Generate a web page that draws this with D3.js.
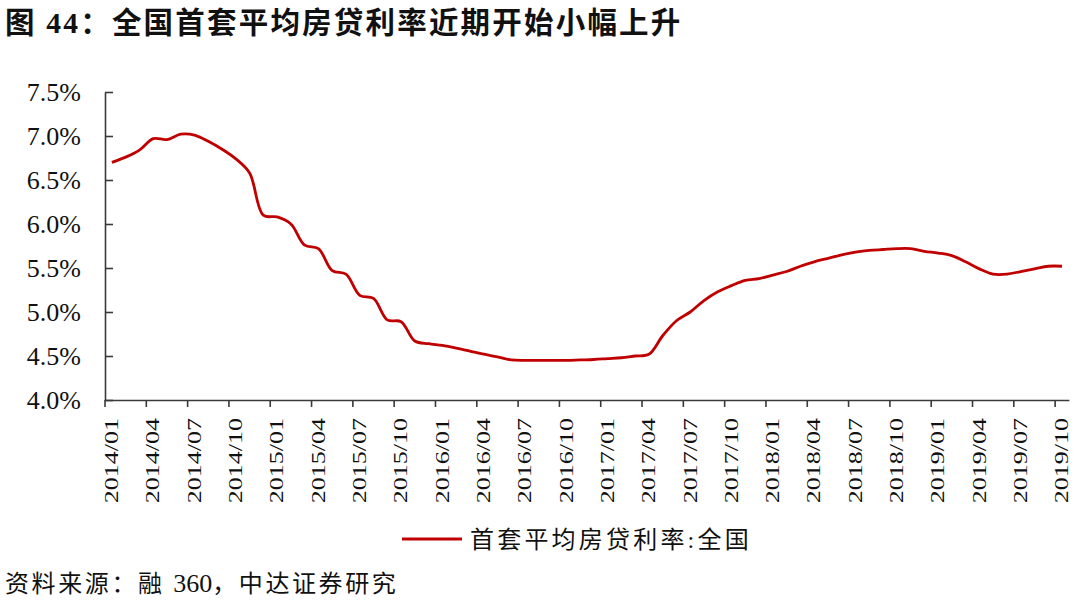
<!DOCTYPE html>
<html><head><meta charset="utf-8">
<script src="https://cdn.jsdelivr.net/npm/d3@7/dist/d3.min.js"></script>
<style>body{margin:0;background:#fff;} svg{display:block;}</style>
</head><body><svg id="c" width="1080" height="605"></svg>
<script>
const titleText = "图 44：全国首套平均房贷利率近期开始小幅上升";
const seriesName = "首套平均房贷利率:全国";
const sourceParts = ["资料来源：融 ", "360", "，中达证券研究"];

const months = [
 "2014/01","2014/02","2014/03","2014/04","2014/05","2014/06","2014/07","2014/08","2014/09","2014/10","2014/11","2014/12",
 "2015/01","2015/02","2015/03","2015/04","2015/05","2015/06","2015/07","2015/08","2015/09","2015/10","2015/11","2015/12",
 "2016/01","2016/02","2016/03","2016/04","2016/05","2016/06","2016/07","2016/08","2016/09","2016/10","2016/11","2016/12",
 "2017/01","2017/02","2017/03","2017/04","2017/05","2017/06","2017/07","2017/08","2017/09","2017/10","2017/11","2017/12",
 "2018/01","2018/02","2018/03","2018/04","2018/05","2018/06","2018/07","2018/08","2018/09","2018/10","2018/11","2018/12",
 "2019/01","2019/02","2019/03","2019/04","2019/05","2019/06","2019/07","2019/08","2019/09","2019/10"
];
const rates = [
 6.70,6.76,6.84,6.97,6.96,7.02,7.01,6.94,6.85,6.74,6.58,6.10,
 6.08,6.00,5.76,5.72,5.47,5.43,5.19,5.155,4.91,4.89,4.67,4.64,
 4.62,4.59,4.555,4.52,4.49,4.455,4.45,4.45,4.45,4.45,4.455,4.46,
 4.47,4.48,4.50,4.52,4.73,4.90,5.00,5.13,5.23,5.30,5.36,5.38,
 5.42,5.46,5.52,5.57,5.61,5.65,5.68,5.70,5.71,5.72,5.72,5.69,
 5.67,5.64,5.57,5.49,5.43,5.43,5.46,5.49,5.52,5.52
];
const yTickValues = [4.0,4.5,5.0,5.5,6.0,6.5,7.0,7.5];
const xTickLabels = months.filter((d,i)=>i%3===0);

const serif = '"Liberation Serif","Times New Roman","Noto Sans CJK SC",serif';
const cjk = '"Liberation Serif","Noto Sans CJK SC",sans-serif';
const lineColor = "#c00000";
const axisColor = "#3a3a3a";

const svg = d3.select("#c");
const left = 105, bw = 13.77;
const x = d3.scaleBand().domain(months).range([left, left + bw*months.length]).padding(0);
const y = d3.scaleLinear().domain([4.0,7.5]).range([400,92]);

// Title
svg.append("text").attr("x",5).attr("y",33)
  .attr("font-family",cjk).attr("font-weight","bold").attr("font-size",29.5)
  .attr("letter-spacing",2.2).attr("fill","#111").text(titleText);

// Y axis
const yAxis = svg.append("g").attr("transform",`translate(${left},0)`)
  .call(d3.axisLeft(y).tickValues(yTickValues).tickSize(-8).tickSizeOuter(0).tickPadding(24)
    .tickFormat(d=>d.toFixed(1)+"%"));
yAxis.selectAll("path,line").attr("stroke",axisColor).attr("stroke-width",1.6);
yAxis.selectAll("text").attr("font-family",serif).attr("font-size",26).attr("fill","#111");

// X axis
const xAxis = svg.append("g").attr("transform","translate(0,400)")
  .call(d3.axisBottom(x).tickValues(xTickLabels).tickSize(7).tickSizeOuter(0));
xAxis.selectAll("path,line").attr("stroke",axisColor).attr("stroke-width",1.6);
xAxis.selectAll(".tick line").attr("x1",-bw/2).attr("x2",-bw/2);
xAxis.selectAll("text")
  .attr("font-family",serif).attr("font-size",19).attr("fill","#111")
  .attr("text-anchor","end").attr("x",0).attr("y",0).attr("dy","0.33em")
  .attr("transform","translate(0,18) rotate(-90) scale(1.37,1)");

// Line
const line = d3.line()
  .x((d,i)=>x(months[i]) + bw/2)
  .y(d=>y(d))
  .curve(d3.curveCatmullRom.alpha(0.5));
svg.append("path").datum(rates).attr("d",line)
  .attr("fill","none").attr("stroke",lineColor).attr("stroke-width",2.8)
  .attr("stroke-linejoin","round");

// Legend
svg.append("line").attr("x1",402).attr("x2",462).attr("y1",539).attr("y2",539)
  .attr("stroke",lineColor).attr("stroke-width",3);
svg.append("text").attr("x",470).attr("y",548)
  .attr("font-family",cjk).attr("font-size",24).attr("letter-spacing",3.2)
  .attr("fill","#111").text(seriesName);

// Source
const src = svg.append("text").attr("x",5).attr("y",592)
  .attr("font-family",cjk).attr("font-size",24).attr("fill","#111");
src.selectAll("tspan").data(sourceParts).join("tspan")
  .attr("letter-spacing",(d,i)=> i===1 ? 0 : 2.6)
  .attr("font-size",(d,i)=> i===1 ? 26 : 24)
  .text(d=>d);
</script>
</body></html>
